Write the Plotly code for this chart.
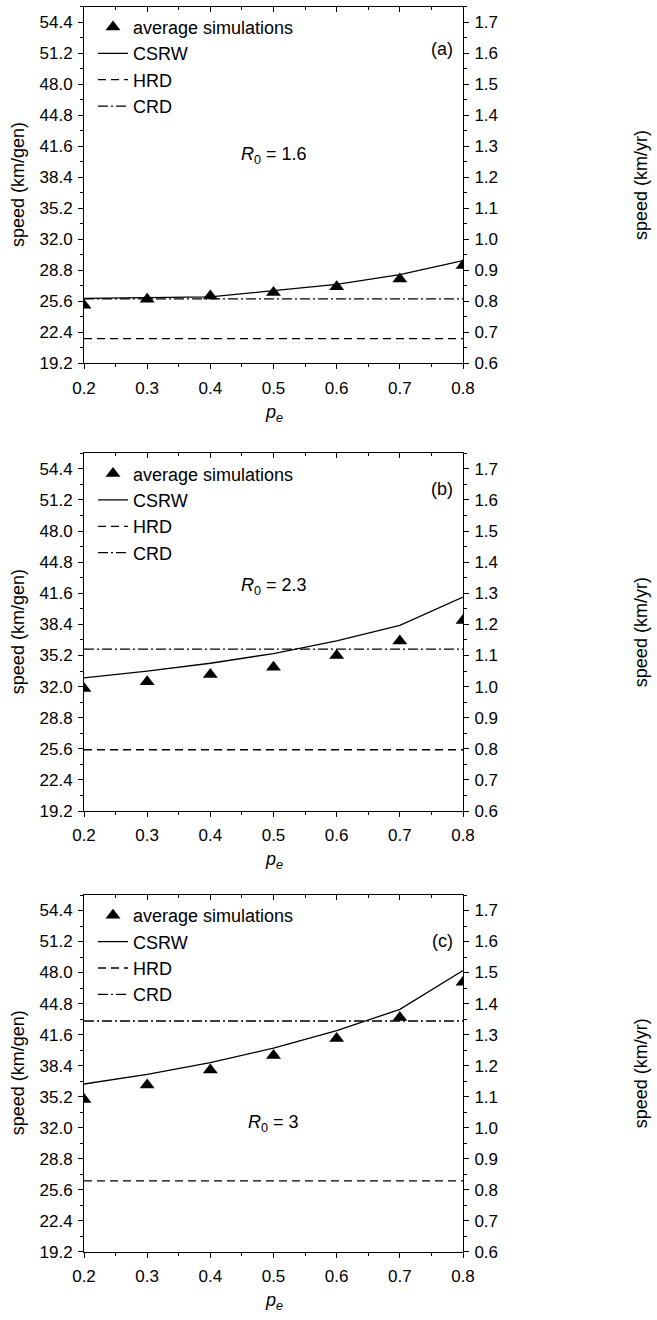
import plotly.graph_objects as go

pe = [0.2, 0.3, 0.4, 0.5, 0.6, 0.7, 0.8]

sim_a = [25.2, 25.8, 26.15, 26.5, 27.1, 27.9, 29.3]
csrw_a = [25.9, 25.95, 26.05, 26.7, 27.35, 28.35, 29.8]
sim_b = [31.8, 32.5, 33.25, 34.0, 35.2, 36.7, 38.8]
csrw_b = [32.9, 33.6, 34.4, 35.4, 36.7, 38.3, 41.2]
sim_c = [34.9, 36.4, 37.95, 39.45, 41.2, 43.35, 47.0]
csrw_c = [36.5, 37.5, 38.7, 40.2, 42.0, 44.2, 48.2]

hrd = [21.75, 25.5, 26.5]
crd = [25.85, 35.85, 43.0]
r0_labels = ["1.6", "2.3", "3"]
r0_y = [40.6, 42.3, 32.4]
panel_tags = ["(a)", "(b)", "(c)"]
tag_y = [51.6, 52.3, 51.3]

KM_PER_YR = 32.0  # km/gen per km/yr (right axis scale)

sims = [sim_a, sim_b, sim_c]
csrws = [csrw_a, csrw_b, csrw_c]

W, H = 657, 1320
ML, MR = 84, 194
PW = W - ML - MR

def py(p):
    return 1 - p / H

def pxp(p):
    return (p - ML) / PW

# pixel (bottom, top) of each panel
panel_px = [(363.3, 6.7), (811.0, 453.3), (1251.7, 895.0)]

FONT = "Liberation Sans, Arial, Helvetica, sans-serif"
TICKF = 17
TXTF = 18
fig = go.Figure()
layout = dict(
    template="none",
    width=W, height=H, autosize=False,
    margin=dict(l=ML, r=MR, t=0, b=0, pad=0, autoexpand=False),
    paper_bgcolor="white", plot_bgcolor="white",
    font=dict(family=FONT, size=TXTF, color="black"),
    showlegend=True,
)
annotations = []

for i in range(3):
    n = i + 1
    xs = "x" if n == 1 else f"x{n}"
    ys = "y" if n == 1 else f"y{n}"
    leg = "legend" if n == 1 else f"legend{n}"
    bot, top = panel_px[i]
    dom = [py(bot), py(top)]

    fig.add_trace(go.Scatter(x=pe, y=sims[i], mode="markers", name="average simulations",
                             marker=dict(symbol="triangle-up", size=13, color="black",
                                         line=dict(width=0)),
                             xaxis=xs, yaxis=ys, legend=leg, cliponaxis=True))
    fig.add_trace(go.Scatter(x=pe, y=csrws[i], mode="lines", name="CSRW",
                             line=dict(color="black", width=1.3),
                             xaxis=xs, yaxis=ys, legend=leg))
    fig.add_trace(go.Scatter(x=[pe[0], pe[-1]], y=[hrd[i], hrd[i]], mode="lines", name="HRD",
                             line=dict(color="black", width=1.3, dash="8px,5px"),
                             xaxis=xs, yaxis=ys, legend=leg))
    fig.add_trace(go.Scatter(x=[pe[0], pe[-1]], y=[crd[i], crd[i]], mode="lines", name="CRD",
                             line=dict(color="black", width=1.3, dash="10px,3px,2px,3px"),
                             xaxis=xs, yaxis=ys, legend=leg))
    # same CSRW values in km/yr, invisible, so the right (km/yr) and top axes are drawn
    fig.add_trace(go.Scatter(x=pe, y=[v / KM_PER_YR for v in csrws[i]], mode="lines",
                             line=dict(color="rgba(0,0,0,0)", width=0), opacity=0,
                             showlegend=False, hoverinfo="skip",
                             xaxis=f"x{n+3}", yaxis=f"y{n+3}"))

    xk = "xaxis" if n == 1 else f"xaxis{n}"
    yk = "yaxis" if n == 1 else f"yaxis{n}"
    common = dict(showline=True, linecolor="black", linewidth=1, showgrid=False,
                  zeroline=False, automargin=False, tickcolor="black")
    layout[xk] = dict(domain=[0, 1], anchor=ys, range=[0.2, 0.8], dtick=0.1, tick0=0.2,
                      tickformat=".1f", ticks="outside", ticklen=5, tickwidth=1,
                      tickfont=dict(size=TICKF), ticklabelstandoff=4,
                      minor=dict(dtick=0.05, ticks="outside", ticklen=3, tickwidth=1,
                                 showgrid=False),
                      **common)
    layout[yk] = dict(domain=dom, anchor=xs, range=[19.2, 56.0], dtick=3.2, tick0=19.2,
                      tickformat=".1f", ticks="outside", ticklen=5, tickwidth=1,
                      tickfont=dict(size=TICKF), ticklabelstandoff=2,
                      minor=dict(dtick=1.6, ticks="outside", ticklen=3, tickwidth=1,
                                 showgrid=False),
                      **common)
    layout[f"yaxis{n+3}"] = dict(overlaying=ys, side="right", anchor=xs,
                                 range=[19.2 / KM_PER_YR, 56.0 / KM_PER_YR],
                                 dtick=0.1, tick0=0.6, tickformat=".1f", ticks="outside",
                                 ticklen=5, tickwidth=1, tickfont=dict(size=TICKF),
                                 ticklabelstandoff=2,
                                 minor=dict(dtick=0.05, ticks="outside", ticklen=3,
                                            tickwidth=1, showgrid=False),
                                 **common)
    layout[f"xaxis{n+3}"] = dict(overlaying=xs, side="top", anchor=ys, range=[0.2, 0.8],
                                 dtick=0.1, tick0=0.2, ticks="inside", ticklen=5, tickwidth=1,
                                 showticklabels=False,
                                 minor=dict(dtick=0.05, ticks="inside", ticklen=3,
                                            tickwidth=1, showgrid=False),
                                 **common)
    layout[leg] = dict(x=pxp(93), y=py(top + 2), xanchor="left", yanchor="top",
                       bgcolor="rgba(0,0,0,0)", borderwidth=0,
                       font=dict(size=TXTF, family=FONT), tracegroupgap=0, itemwidth=30)

    annotations.append(dict(x=0.5, y=r0_y[i], xref=xs, yref=ys, showarrow=False,
                            text=f"<i>R</i><sub>0</sub> = {r0_labels[i]}", font=dict(size=TXTF),
                            xanchor="center", yanchor="middle"))
    annotations.append(dict(x=0.787, y=tag_y[i], xref=xs, yref=ys, showarrow=False,
                            text=panel_tags[i], font=dict(size=TXTF),
                            xanchor="right", yanchor="middle"))
    mid = (bot + top) / 2
    annotations.append(dict(x=pxp(18), y=py(mid), xref="paper", yref="paper", showarrow=False,
                            text="speed (km/gen)", textangle=-90, font=dict(size=TXTF),
                            xanchor="center", yanchor="middle"))
    annotations.append(dict(x=pxp(641), y=py(mid), xref="paper", yref="paper", showarrow=False,
                            text="speed (km/yr)", textangle=-90, font=dict(size=TXTF),
                            xanchor="center", yanchor="middle"))
    annotations.append(dict(x=0.5, y=py(bot + 50), xref="paper", yref="paper", showarrow=False,
                            text="<i>p</i><sub><i>e</i></sub>", font=dict(size=TXTF),
                            xanchor="center", yanchor="middle"))

layout["annotations"] = annotations
fig.update_layout(**layout)
fig.write_html("out.html")
